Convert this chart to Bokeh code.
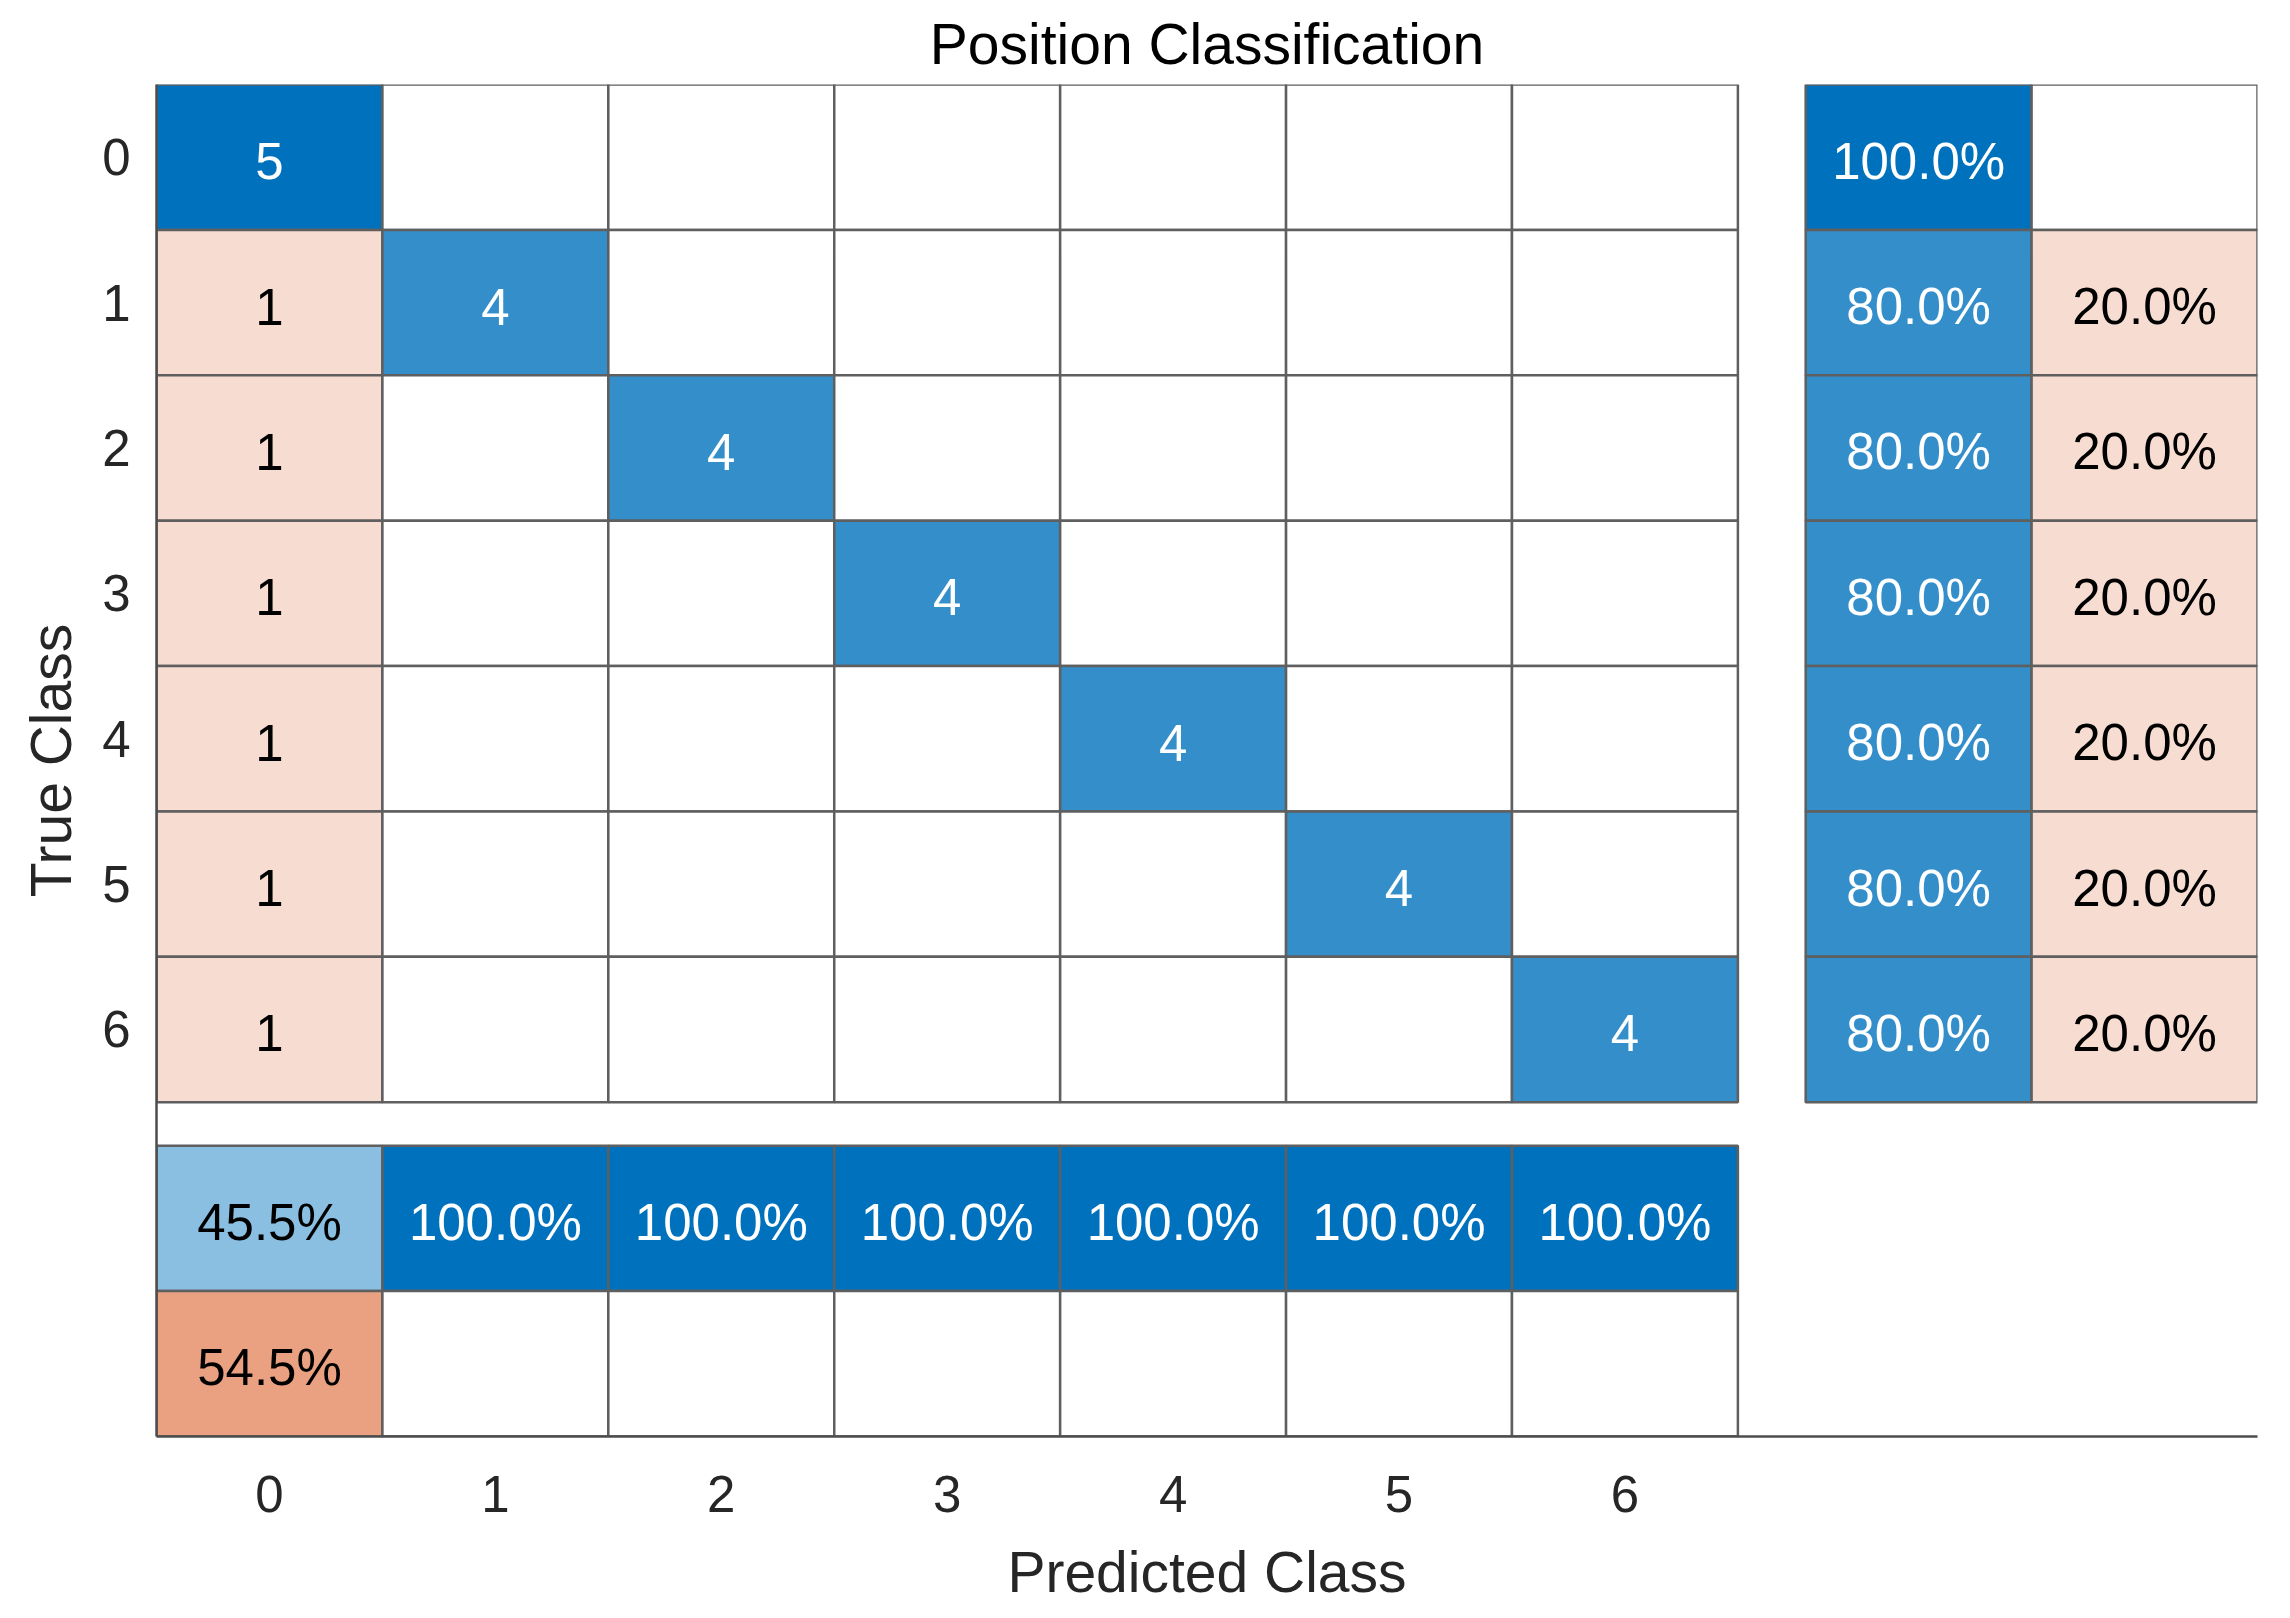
from bokeh.plotting import figure
from bokeh.models import Range1d, FixedTicker, ColumnDataSource
from bokeh.core.properties import value
from bokeh.embed import file_html
from bokeh.resources import INLINE

# ---------------- data ----------------
classes = ["0", "1", "2", "3", "4", "5", "6"]
counts = [
    [5, 0, 0, 0, 0, 0, 0],
    [1, 4, 0, 0, 0, 0, 0],
    [1, 0, 4, 0, 0, 0, 0],
    [1, 0, 0, 4, 0, 0, 0],
    [1, 0, 0, 0, 4, 0, 0],
    [1, 0, 0, 0, 0, 4, 0],
    [1, 0, 0, 0, 0, 0, 4],
]
row_correct_pct = [100.0, 80.0, 80.0, 80.0, 80.0, 80.0, 80.0]
row_wrong_pct = [0.0, 20.0, 20.0, 20.0, 20.0, 20.0, 20.0]
col_correct_pct = [45.5, 100.0, 100.0, 100.0, 100.0, 100.0, 100.0]
col_wrong_pct = [54.5, 0.0, 0.0, 0.0, 0.0, 0.0, 0.0]

title_text = "Position Classification"
x_title = "Predicted Class"
y_title = "True Class"

# ---------------- styling ----------------
FONT = "Liberation Sans"
BLUE = (0, 114, 189)
RED = (217, 83, 25)
GAP = 0.3
n = len(classes)


def blend(rgb, t):
    r, g, b = (round(255 * (1 - t) + c * t) for c in rgb)
    return "#%02x%02x%02x" % (r, g, b)


xs, ys, fills, labels, tcols = [], [], [], [], []


def add_cell(x, y, t, base, label):
    xs.append(x)
    ys.append(y)
    fills.append(blend(base, t) if t > 0 else "#ffffff")
    labels.append(label)
    tcols.append("#ffffff" if t >= 0.6 else "#000000")


maxc = max(max(r) for r in counts)
for i in range(n):
    for j in range(n):
        v = counts[i][j]
        add_cell(j, i, v / maxc, BLUE if i == j else RED, str(v) if v > 0 else "")

side = n - 0.5 + GAP + 0.5  # center of first summary column / row
for i in range(n):
    add_cell(side, i, row_correct_pct[i] / 100, BLUE,
             f"{row_correct_pct[i]:.1f}%" if row_correct_pct[i] > 0 else "")
    add_cell(side + 1, i, row_wrong_pct[i] / 100, RED,
             f"{row_wrong_pct[i]:.1f}%" if row_wrong_pct[i] > 0 else "")
for j in range(n):
    add_cell(j, side, col_correct_pct[j] / 100, BLUE,
             f"{col_correct_pct[j]:.1f}%" if col_correct_pct[j] > 0 else "")
    add_cell(j, side + 1, col_wrong_pct[j] / 100, RED,
             f"{col_wrong_pct[j]:.1f}%" if col_wrong_pct[j] > 0 else "")

src = ColumnDataSource(dict(x=xs, y=ys, fill=fills, label=labels, tcol=tcols))

lo = -0.5
hi = side + 1.5

p = figure(
    frame_width=2101, frame_height=1352,
    min_border_left=156, min_border_right=10,
    min_border_top=83, min_border_bottom=170,
    x_range=Range1d(lo, hi), y_range=Range1d(hi, lo),
    output_backend="svg", toolbar_location=None, tools="",
    background_fill_color="#ffffff", border_fill_color="#ffffff",
)
p.outline_line_color = None
p.grid.visible = False

p.rect(x="x", y="y", width=1, height=1, source=src, fill_color="fill",
       line_color="#5f5f5f", line_width=2.5)
p.text(x="x", y="y", text="label", source=src, text_color="tcol",
       text_align="center", text_baseline="middle", y_offset=4,
       text_font=value(FONT), text_font_size="51px")

# title
p.title.text = title_text
p.title.align = "center"
p.title.text_font = FONT
p.title.text_font_size = "57px"
p.title.text_font_style = "normal"
p.title.text_color = "#000000"
p.title.standoff = 18

for ax in (p.xaxis[0], p.yaxis[0]):
    ax.ticker = FixedTicker(ticks=list(range(n)))
    ax.major_label_overrides = {i: c for i, c in enumerate(classes)}
    ax.major_tick_line_color = None
    ax.minor_tick_line_color = None
    ax.major_tick_out = 0
    ax.major_tick_in = 0
    ax.axis_line_color = "#4d4d4d"
    ax.axis_line_width = 2.5
    ax.major_label_text_font = FONT
    ax.major_label_text_font_size = "51px"
    ax.major_label_text_color = "#262626"
    ax.axis_label_text_font = FONT
    ax.axis_label_text_font_size = "57px"
    ax.axis_label_text_font_style = "normal"
    ax.axis_label_text_color = "#262626"

p.xaxis.axis_label = x_title
p.yaxis.axis_label = y_title
p.xaxis.major_label_standoff = 39
p.yaxis.major_label_standoff = 26
p.xaxis.axis_label_standoff = 25
p.yaxis.axis_label_standoff = 16

open("out.html", "w").write(file_html(p, INLINE))
